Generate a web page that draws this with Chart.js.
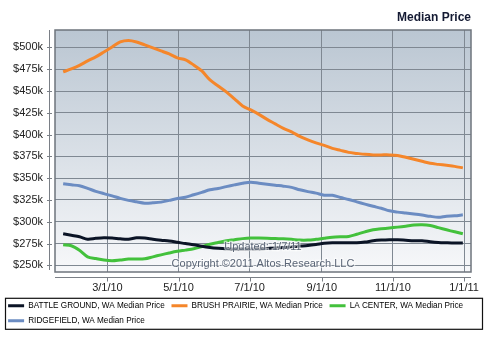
<!DOCTYPE html>
<html>
<head>
<meta charset="utf-8">
<script src="https://cdn.jsdelivr.net/npm/chart.js@4"></script>
<style>
  html, body { margin: 0; padding: 0; background: #ffffff; }
  canvas { display: block; }
</style>
</head>
<body>
<canvas id="medianChart" width="489" height="339"></canvas>
<script>
const weekDates = [
  "2010-01-22", "2010-01-29", "2010-02-05", "2010-02-12", "2010-02-19", "2010-02-26",
  "2010-03-05", "2010-03-12", "2010-03-19", "2010-03-26", "2010-04-02", "2010-04-09",
  "2010-04-16", "2010-04-23", "2010-04-30", "2010-05-07", "2010-05-14", "2010-05-21",
  "2010-05-28", "2010-06-04", "2010-06-11", "2010-06-18", "2010-06-25", "2010-07-02",
  "2010-07-09", "2010-07-16", "2010-07-23", "2010-07-30", "2010-08-06", "2010-08-13",
  "2010-08-20", "2010-08-27", "2010-09-03", "2010-09-10", "2010-09-17", "2010-09-24",
  "2010-10-01", "2010-10-08", "2010-10-15", "2010-10-22", "2010-10-29", "2010-11-05",
  "2010-11-12", "2010-11-19", "2010-11-26", "2010-12-03", "2010-12-10", "2010-12-17",
  "2010-12-24", "2010-12-31"
];

// median price in $k
const battleGround = [
  286.1, 284.4, 282.7, 280.0, 280.9, 281.5, 281.2, 280.4, 280.0, 281.5,
  281.3, 279.8, 278.7, 277.8, 276.4, 274.9, 273.6, 271.8, 270.4, 269.5,
  268.9, 268.6, 268.6, 268.6, 268.9, 269.3, 269.7, 270.3, 271.2, 272.0,
  272.8, 273.9, 275.2, 275.8, 275.8, 275.8, 275.8, 276.6, 278.1, 278.9,
  279.3, 279.3, 278.7, 278.1, 278.1, 277.0, 276.2, 275.8, 275.5, 275.5
];
const brushPrairie = [
  471.9, 475.3, 479.4, 484.5, 489.1, 494.8, 500.6, 506.3, 508.0, 506.3,
  502.9, 499.4, 496.0, 492.5, 488.0, 485.7, 479.9, 473.0, 462.7, 455.8,
  449.0, 441.0, 432.9, 428.3, 423.2, 417.4, 412.3, 407.1, 403.1, 397.9,
  393.9, 390.5, 387.6, 384.2, 381.9, 379.6, 378.4, 377.3, 376.7, 376.7,
  376.7, 376.1, 373.9, 371.6, 369.3, 367.0, 365.8, 364.7, 363.5, 361.8
];
const laCenter = [
  273.5, 272.4, 267.2, 259.7, 257.7, 256.0, 255.2, 256.1, 257.1, 257.1,
  257.5, 259.7, 262.0, 264.1, 266.0, 267.4, 268.9, 271.4, 274.1, 276.1,
  278.1, 279.3, 280.6, 281.3, 281.2, 281.0, 280.6, 280.4, 279.8, 278.9,
  278.9, 279.8, 281.0, 282.1, 282.7, 283.1, 285.6, 288.4, 290.7, 291.8,
  292.8, 293.8, 294.9, 296.1, 296.4, 295.6, 293.2, 290.7, 288.4, 286.1
];
const ridgefield = [
  343.5, 342.3, 341.2, 338.3, 334.9, 332.2, 329.7, 326.8, 324.5, 322.8,
  321.3, 321.7, 322.5, 324.5, 326.6, 328.0, 330.9, 333.7, 336.6, 338.1,
  340.3, 342.3, 344.2, 345.4, 344.2, 343.1, 341.9, 340.8, 339.4, 336.6,
  334.5, 332.8, 330.5, 330.3, 327.8, 325.5, 322.8, 320.2, 317.7, 315.4,
  312.5, 311.0, 309.9, 308.8, 307.6, 306.2, 305.1, 306.4, 306.8, 307.9
];

const seriesNames = [
  "BATTLE GROUND, WA Median Price",
  "BRUSH PRAIRIE, WA Median Price",
  "LA CENTER, WA Median Price",
  "RIDGEFIELD, WA Median Price"
];
const seriesColors = ["#0b1426", "#f5862a", "#43c13c", "#6b8cc2"];

const xTickDates = ["2010-03-01", "2010-05-01", "2010-07-01", "2010-09-01", "2010-11-01", "2011-01-01"];
const xTickLabels = ["3/1/10", "5/1/10", "7/1/10", "9/1/10", "11/1/10", "1/1/11"];
const yTickValues = [250, 275, 300, 325, 350, 375, 400, 425, 450, 475, 500];

const FONT = "'Liberation Sans', Arial, Helvetica, sans-serif";
const DAY_MS = 86400000;
const ORIGIN = Date.UTC(2010, 0, 1);

function toDay(iso) {
  const [y, m, d] = iso.split("-").map(Number);
  return (Date.UTC(y, m - 1, d) - ORIGIN) / DAY_MS;
}

function points(values) {
  return values.map((v, i) => ({ x: toDay(weekDates[i]), y: v }));
}

const plotFrame = {
  id: "plotFrame",
  beforeDraw(chart) {
    const { ctx, chartArea: a } = chart;
    const grad = ctx.createLinearGradient(0, a.top, 0, a.bottom);
    grad.addColorStop(0, "#bac6d2");
    grad.addColorStop(1, "#f7f8fa");
    ctx.save();
    ctx.fillStyle = grad;
    ctx.fillRect(a.left, a.top, a.right - a.left, a.bottom - a.top);
    ctx.restore();
  },
  afterDatasetsDraw(chart) {
    const { ctx, chartArea: a } = chart;
    const cx = (a.left + a.right) / 2;
    ctx.save();
    ctx.font = "11px " + FONT;
    ctx.textAlign = "center";
    ctx.textBaseline = "middle";
    ctx.lineWidth = 2.5;
    ctx.strokeStyle = "rgba(255,255,255,0.55)";
    ctx.fillStyle = "#5b6677";
    ctx.strokeText("Updated: 1/7/11", cx, a.bottom - 25);
    ctx.fillText("Updated: 1/7/11", cx, a.bottom - 25);
    ctx.strokeText("Copyright \u00a92011 Altos Research LLC", cx, a.bottom - 8);
    ctx.fillText("Copyright \u00a92011 Altos Research LLC", cx, a.bottom - 8);
    ctx.restore();
  },
  afterDraw(chart) {
    const { ctx, chartArea: a, scales } = chart;
    ctx.save();
    // plot frame
    ctx.strokeStyle = "#6e747c";
    ctx.lineWidth = 1.5;
    ctx.strokeRect(a.left, a.top, a.right - a.left, a.bottom - a.top);

    // detached axis lines with tick marks
    ctx.strokeStyle = "#7a7f86";
    ctx.lineWidth = 1;
    const ax = a.left - 5.5;
    ctx.beginPath();
    ctx.moveTo(ax, a.top);
    ctx.lineTo(ax, a.bottom - 2);
    scales.y.ticks.forEach((t) => {
      const py = Math.round(scales.y.getPixelForValue(t.value)) + 0.5;
      ctx.moveTo(ax - 2.5, py);
      ctx.lineTo(ax + 2.5, py);
    });
    const ay = a.bottom + 5.5;
    ctx.moveTo(a.left, ay);
    ctx.lineTo(a.right, ay);
    scales.x.ticks.forEach((t) => {
      const px = Math.round(scales.x.getPixelForValue(t.value)) + 0.5;
      ctx.moveTo(px, ay);
      ctx.lineTo(px, ay + 4);
    });
    ctx.stroke();

    // legend box
    const lg = chart.legend;
    ctx.strokeStyle = "#111111";
    ctx.lineWidth = 1.2;
    ctx.strokeRect(5.5, lg.top + 3.5, 477, 31);
    ctx.restore();
  }
};

const ctxEl = document.getElementById("medianChart");

new Chart(ctxEl, {
  type: "line",
  data: {
    datasets: [battleGround, brushPrairie, laCenter, ridgefield].map((vals, i) => ({
      label: seriesNames[i],
      data: points(vals),
      borderColor: seriesColors[i],
      backgroundColor: seriesColors[i],
      borderWidth: 3,
      pointRadius: 0,
      tension: 0.3,
      fill: false
    }))
  },
  options: {
    responsive: false,
    animation: false,
    layout: { padding: { left: 1.3, right: 10, top: 0, bottom: 4.2 } },
    plugins: {
      title: {
        display: true,
        fullSize: false,
        text: "Median Price",
        align: "end",
        color: "#141a33",
        font: { family: FONT, size: 12, weight: "bold" },
        padding: { top: 10, bottom: 5.6 }
      },
      legend: {
        position: "bottom",
        align: "start",
        labels: {
          boxWidth: 16,
          boxHeight: 3,
          padding: 6.8,
          color: "#222222",
          font: { family: FONT, size: 8.2 },
          generateLabels(chart) {
            return chart.data.datasets.map((ds, i) => ({
              text: ds.label,
              fillStyle: ds.borderColor,
              strokeStyle: ds.borderColor,
              lineWidth: 0,
              hidden: false,
              datasetIndex: i
            }));
          }
        }
      },
      tooltip: { enabled: false }
    },
    scales: {
      x: {
        type: "linear",
        min: toDay("2010-01-15"),
        max: toDay("2011-01-07"),
        afterBuildTicks(scale) {
          scale.ticks = xTickDates.map((d) => ({ value: toDay(d) }));
        },
        afterFit(scale) { scale.height = 22.8; },
        ticks: {
          padding: 9,
          color: "#222222",
          font: { family: FONT, size: 11 },
          maxRotation: 0,
          autoSkip: false,
          callback(value) {
            const idx = xTickDates.findIndex((d) => toDay(d) === value);
            return idx >= 0 ? xTickLabels[idx] : "";
          }
        },
        grid: { color: "#7f8892", lineWidth: 1, drawTicks: false },
        border: { display: false }
      },
      y: {
        min: 242.3,
        max: 520,
        afterBuildTicks(scale) {
          scale.ticks = yTickValues.map((v) => ({ value: v }));
        },
        afterFit(scale) { scale.width = 53.7; },
        ticks: {
          padding: 12,
          color: "#222222",
          font: { family: FONT, size: 11 },
          callback: (value) => "$" + value + "k"
        },
        grid: { color: "#7f8892", lineWidth: 1, drawTicks: false },
        border: { display: false }
      },
      spacer: {
        position: "right",
        afterFit(scale) { scale.width = 8; },
        ticks: { display: false },
        grid: { display: false, drawTicks: false },
        border: { display: false }
      }
    }
  },
  plugins: [plotFrame]
});
</script>
</body>
</html>
